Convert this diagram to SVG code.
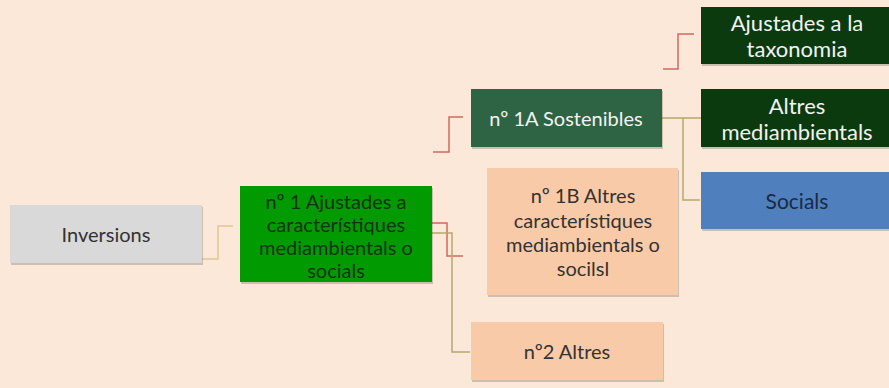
<svg xmlns="http://www.w3.org/2000/svg" width="889" height="388" viewBox="0 0 889 388">
<defs>
<style>
.t{font-family:Lato,"Open Sans","Liberation Sans",sans-serif;font-size:20px;text-anchor:middle;dominant-baseline:central}
.big{font-size:22px}
.mid{font-size:21px}
.sh{fill:#000;opacity:0.18}
.c{fill:none;stroke-width:1.5}
.red{stroke:#D06A5E}
.ol{stroke:#B5A96A}
.tan{stroke:#E2C690}
</style>
</defs>
<rect x="0" y="0" width="889" height="388" fill="#FBE8D9"/>
<g id="connectors">
<path class="c tan" d="M202,259 H218 V226 H233"/>
<path class="c red" d="M432,223 H447 V256 H463"/>
<path class="c ol" d="M432,233 H452 V352 H470"/>
<path class="c red" d="M433,152 H449 V117 H463"/>
<path class="c red" d="M663,69 H678 V34 H694"/>
<path class="c ol" d="M662,118 H701"/>
<path class="c ol" d="M683,118 V200 H700"/>
</g>
<g id="inversions">
<rect class="sh" x="11" y="207" width="192" height="58"/>
<rect x="10" y="205" width="192" height="58" fill="#D9D9D9"/>
<text class="t" x="106" y="234" fill="#333333">Inversions</text>
</g>
<g id="n1">
<rect class="sh" x="241" y="188" width="192" height="96"/>
<rect x="240" y="186" width="192" height="96" fill="#019B01"/>
<text class="t" fill="#123312"><tspan x="336" y="201">nº 1 Ajustades a</tspan><tspan x="336" y="224">característiques</tspan><tspan x="336" y="247">mediambientals o</tspan><tspan x="336" y="270">socials</tspan></text>
</g>
<g id="n1a">
<rect class="sh" x="472" y="91" width="191" height="58"/>
<rect x="471" y="89" width="191" height="58" fill="#2E6444"/>
<text class="t" x="566" y="118" fill="#F2F2F2">nº 1A Sostenibles</text>
</g>
<g id="taxonomia">
<rect class="sh" x="702" y="9" width="192" height="57"/>
<rect x="701" y="7" width="192" height="57" fill="#0B3A0F"/>
<text class="t big" fill="#F2F2F2"><tspan x="797" y="22">Ajustades a la</tspan><tspan x="797" y="48">taxonomia</tspan></text>
</g>
<g id="mediambientals">
<rect class="sh" x="702" y="91" width="192" height="58"/>
<rect x="701" y="89" width="192" height="58" fill="#0B3A0F"/>
<text class="t big" fill="#F2F2F2"><tspan x="797" y="105">Altres</tspan><tspan x="797" y="131">mediambientals</tspan></text>
</g>
<g id="socials">
<rect class="sh" x="702" y="174" width="192" height="57"/>
<rect x="701" y="172" width="192" height="57" fill="#4F80BD"/>
<text class="t mid" x="797" y="200" fill="#1B2A40">Socials</text>
</g>
<g id="n1b">
<rect class="sh" x="488" y="170" width="191" height="127"/>
<rect x="487" y="168" width="191" height="127" fill="#F9CAA7"/>
<text class="t" fill="#333333"><tspan x="583" y="195">nº 1B Altres</tspan><tspan x="583" y="220">característiques</tspan><tspan x="583" y="244">mediambientals o</tspan><tspan x="583" y="268">socilsl</tspan></text>
</g>
<g id="n2">
<rect class="sh" x="472" y="324" width="192" height="58"/>
<rect x="471" y="322" width="192" height="58" fill="#F9CAA7"/>
<text class="t" x="567" y="351" fill="#333333">nº2 Altres</text>
</g>
</svg>
